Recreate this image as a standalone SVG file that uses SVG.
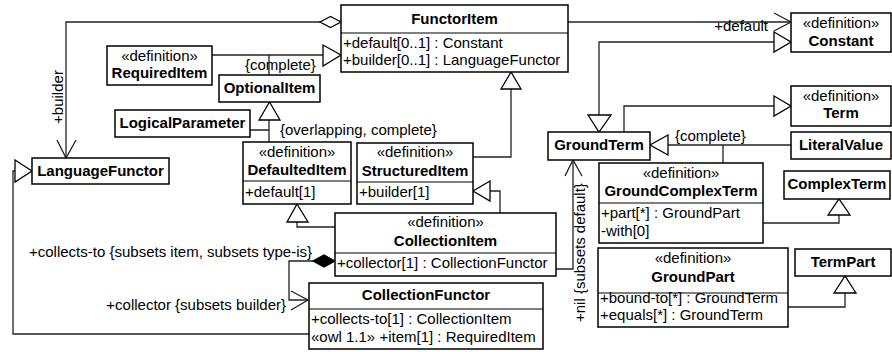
<svg xmlns="http://www.w3.org/2000/svg" width="892" height="352" viewBox="0 0 892 352">
<defs>
<style>
.box{fill:#fff;stroke:#000;stroke-width:1.5}
.div{stroke:#000;stroke-width:1.2}
.ln{fill:none;stroke:#222;stroke-width:1.3}
.tri{fill:#fff;stroke:#000;stroke-width:1.3}
.dia{fill:#fff;stroke:#000;stroke-width:1.3}
.cmp{fill:#000;stroke:#000;stroke-width:1.3}
text{font-family:"Liberation Sans",Arial,sans-serif;font-size:15px;fill:#000}
.b{font-weight:bold}
.c{text-anchor:middle}
</style>
</defs>
<rect width="892" height="352" fill="#fff"/>
<g id="connectors">
  <!-- builder aggregation -->
  <path class="ln" d="M320,22 H66 V158"/>
  <polyline class="ln" points="57,140 66,158 76,140"/>
  <polygon class="dia" points="341,22 330.5,16.5 320,22 330.5,27.5"/>
  <text transform="rotate(-90 63 97)" x="63" y="97" class="c">+builder</text>
  <!-- OptionalItem / RequiredItem -> FunctorItem -->
  <path class="ln" d="M212,55 H323 M269,55 V75"/>
  <polygon class="tri" points="323,45 341,55 323,66"/>
  <text x="245" y="70">{complete}</text>
  <!-- DefaultedItem / LogicalParameter -> OptionalItem -->
  <path class="ln" d="M269,120 V142 M250,130 H269"/>
  <polygon class="tri" points="259,120 269.5,102 280,120"/>
  <text x="280" y="135">{overlapping, complete}</text>
  <!-- StructuredItem -> FunctorItem -->
  <path class="ln" d="M511,89 V157 H473"/>
  <polygon class="tri" points="501,89 511,72 521,89"/>
  <!-- CollectionItem -> StructuredItem -->
  <path class="ln" d="M490,191 H500 V213"/>
  <polygon class="tri" points="490,181 473,191 490,201"/>
  <!-- CollectionItem -> DefaultedItem -->
  <path class="ln" d="M297,222 V227 H335"/>
  <polygon class="tri" points="287,222 297,204 308,222"/>
  <!-- composition collector -->
  <path class="ln" d="M313,261 H289 V300 H308"/>
  <polyline class="ln" points="291,291 308,300 291,310"/>
  <polygon class="cmp" points="335,261 324,255 313,261 324,267"/>
  <text x="29" y="257">+collects-to {subsets item, subsets type-is}</text>
  <text x="286" y="310" text-anchor="end">+collector {subsets builder}</text>
  <!-- CollectionFunctor -> LanguageFunctor -->
  <path class="ln" d="M309,334 H13 V171 H15"/>
  <polygon class="tri" points="15,160 32,171 15,182"/>
  <!-- FunctorItem -> Constant (+default) -->
  <path class="ln" d="M568,22 H791"/>
  <polyline class="ln" points="774,13 791,22 774,31"/>
  <text x="768" y="31" text-anchor="end">+default</text>
  <!-- GroundTerm -> Constant -->
  <path class="ln" d="M599,115 V42 H774"/>
  <polygon class="tri" points="774,32 791,42 774,52"/>
  <polygon class="tri" points="588,115 599,132 611,115"/>
  <!-- GroundTerm -> Term -->
  <path class="ln" d="M624,132 V106 H774"/>
  <polygon class="tri" points="774,96 791,106 774,116"/>
  <!-- LiteralValue / GroundComplexTerm -> GroundTerm -->
  <path class="ln" d="M668,145 H791 M723,145 V163"/>
  <polygon class="tri" points="668,135 650,145 668,155"/>
  <text x="675" y="141">{complete}</text>
  <!-- GroundComplexTerm -> ComplexTerm -->
  <path class="ln" d="M839,215 V223 H763"/>
  <polygon class="tri" points="828,215 839,199 850,215"/>
  <!-- GroundPart -> TermPart -->
  <path class="ln" d="M845,293 V307 H788"/>
  <polygon class="tri" points="834,293 845,276 856,293"/>
  <!-- CollectionItem -> GroundTerm (+nil) -->
  <path class="ln" d="M556,269 H573 V160"/>
  <polyline class="ln" points="565,176 573,160 582,176"/>
  <text transform="rotate(-90 585 322)" x="585" y="322">+nil {subsets default}</text>
</g>
<g id="FunctorItem">
  <rect class="box" x="341" y="5" width="227" height="67"/>
  <line class="div" x1="341" y1="33" x2="568" y2="33"/>
  <text class="b c" x="454.5" y="24">FunctorItem</text>
  <text x="343" y="48">+default[0..1] : Constant</text>
  <text x="343" y="65">+builder[0..1] : LanguageFunctor</text>
</g>
<g id="RequiredItem">
  <rect class="box" x="107" y="46" width="105" height="39"/>
  <text class="c" x="159.5" y="61">«definition»</text>
  <text class="b c" x="159.5" y="78">RequiredItem</text>
</g>
<g id="OptionalItem">
  <rect class="box" x="219" y="75" width="101" height="27"/>
  <text class="b c" x="269.5" y="93">OptionalItem</text>
</g>
<g id="LogicalParameter">
  <rect class="box" x="115" y="110" width="135" height="27"/>
  <text class="b c" x="182.5" y="128">LogicalParameter</text>
</g>
<g id="LanguageFunctor">
  <rect class="box" x="32" y="158" width="137" height="26"/>
  <text class="b c" x="100.5" y="176">LanguageFunctor</text>
</g>
<g id="DefaultedItem">
  <rect class="box" x="243" y="142" width="108" height="62"/>
  <line class="div" x1="243" y1="181" x2="351" y2="181"/>
  <text class="c" x="297" y="157">«definition»</text>
  <text class="b c" x="297" y="175">DefaultedItem</text>
  <text x="245" y="197">+default[1]</text>
</g>
<g id="StructuredItem">
  <rect class="box" x="357" y="143" width="116" height="61"/>
  <line class="div" x1="357" y1="182" x2="473" y2="182"/>
  <text class="c" x="415" y="157">«definition»</text>
  <text class="b c" x="415" y="176">StructuredItem</text>
  <text x="359" y="197">+builder[1]</text>
</g>
<g id="CollectionItem">
  <rect class="box" x="335" y="213" width="221" height="63"/>
  <line class="div" x1="335" y1="253" x2="556" y2="253"/>
  <text class="c" x="445.5" y="227">«definition»</text>
  <text class="b c" x="445.5" y="246">CollectionItem</text>
  <text x="337" y="268">+collector[1] : CollectionFunctor</text>
</g>
<g id="CollectionFunctor">
  <rect class="box" x="309" y="283" width="234" height="66"/>
  <line class="div" x1="309" y1="309" x2="543" y2="309"/>
  <text class="b c" x="426" y="300">CollectionFunctor</text>
  <text x="311" y="324">+collects-to[1] : CollectionItem</text>
  <text x="311" y="342">«owl 1.1» +item[1] : RequiredItem</text>
</g>
<g id="Constant">
  <rect class="box" x="791" y="13" width="100" height="39"/>
  <text class="c" x="841" y="28">«definition»</text>
  <text class="b c" x="841" y="46">Constant</text>
</g>
<g id="Term">
  <rect class="box" x="791" y="86" width="100" height="40"/>
  <text class="c" x="841" y="101">«definition»</text>
  <text class="b c" x="841" y="118">Term</text>
</g>
<g id="GroundTerm">
  <rect class="box" x="548" y="132" width="102" height="28"/>
  <text class="b c" x="599" y="150">GroundTerm</text>
</g>
<g id="LiteralValue">
  <rect class="box" x="791" y="132" width="100" height="27"/>
  <text class="b c" x="841" y="150">LiteralValue</text>
</g>
<g id="GroundComplexTerm">
  <rect class="box" x="599" y="163" width="164" height="80"/>
  <line class="div" x1="599" y1="203" x2="763" y2="203"/>
  <text class="c" x="681" y="178">«definition»</text>
  <text class="b c" x="681" y="196">GroundComplexTerm</text>
  <text x="601" y="218">+part[*] : GroundPart</text>
  <text x="601" y="236">-with[0]</text>
</g>
<g id="ComplexTerm">
  <rect class="box" x="784" y="171" width="106" height="28"/>
  <text class="b c" x="837" y="189">ComplexTerm</text>
</g>
<g id="GroundPart">
  <rect class="box" x="598" y="248" width="190" height="79"/>
  <line class="div" x1="598" y1="293" x2="788" y2="293"/>
  <text class="c" x="693" y="263">«definition»</text>
  <text class="b c" x="693" y="282">GroundPart</text>
  <text x="600" y="303">+bound-to[*] : GroundTerm</text>
  <text x="600" y="320">+equals[*] : GroundTerm</text>
</g>
<g id="TermPart">
  <rect class="box" x="795" y="249" width="96" height="27"/>
  <text class="b c" x="843" y="267">TermPart</text>
</g>
</svg>
